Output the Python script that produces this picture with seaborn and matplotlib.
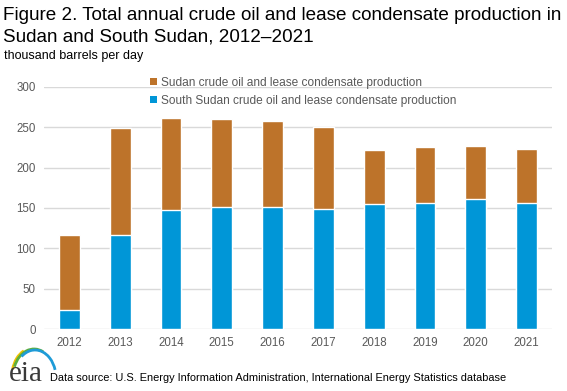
import matplotlib
matplotlib.use("Agg")
import matplotlib.pyplot as plt
from matplotlib.patches import Arc, Patch
import seaborn as sns
import pandas as pd

years = ["2012", "2013", "2014", "2015", "2016", "2017", "2018", "2019", "2020", "2021"]
south_sudan = [23, 116, 148, 151, 151, 149, 155, 156, 161, 156]
sudan = [93, 133, 113, 109, 107, 102, 67, 69, 66, 67]
yticks = [0, 50, 100, 150, 200, 250, 300]

label_sudan = "Sudan crude oil and lease condensate production"
label_south = "South Sudan crude oil and lease condensate production"

c_sudan = "#BD732A"
c_south = "#0096D7"
grey_txt = "#595959"

sns.set_theme(style="white")
plt.rcParams["font.family"] = ["Liberation Sans", "DejaVu Sans"]

df = pd.DataFrame({"year": years, "south": south_sudan, "sudan": sudan})
df["total"] = df["south"] + df["sudan"]

fig = plt.figure(figsize=(5.67, 3.91), dpi=100)
ax = fig.add_axes([44 / 567, 1 - 329 / 391, (552 - 44) / 567, (329 - 87) / 391])

sns.barplot(data=df, x="year", y="total", color=c_sudan, width=0.41, ax=ax,
            saturation=1, zorder=3)
sns.barplot(data=df, x="year", y="south", color=c_south, width=0.41, ax=ax,
            saturation=1, zorder=3)

ax.set_ylim(0, 300)
ax.set_xlim(-0.5, len(years) - 0.5)
ax.set_yticks(yticks)
ax.set_yticklabels([str(v) for v in yticks])
ax.set_xlabel("")
ax.set_ylabel("")
for s in ax.spines.values():
    s.set_visible(False)
ax.yaxis.grid(True, color="#D9D9D9", linewidth=1.0, zorder=0)
ax.xaxis.grid(False)
ax.set_axisbelow(True)
ax.tick_params(axis="both", length=0, labelsize=8.3, labelcolor=grey_txt)
ax.tick_params(axis="y", pad=6)
ax.tick_params(axis="x", pad=6)

handles = [Patch(facecolor=c_sudan, edgecolor="none"), Patch(facecolor=c_south, edgecolor="none")]
leg = ax.legend(handles, [label_sudan, label_south], loc="upper left",
                bbox_to_anchor=(0.2, 1.063), frameon=False, fontsize=8.6,
                handlelength=0.55, handleheight=0.55, handletextpad=0.35,
                labelspacing=0.5, borderaxespad=0)
for t in leg.get_texts():
    t.set_color(grey_txt)

fig.text(3 / 567, 1 - 16 / 391, "Figure 2. Total annual crude oil and lease condensate production in",
         fontsize=13.6, color="black", va="center", ha="left")
fig.text(3 / 567, 1 - 37 / 391, "Sudan and South Sudan, 2012\u20132021",
         fontsize=13.6, color="black", va="center", ha="left")
fig.text(4 / 567, 1 - 56 / 391, "thousand barrels per day",
         fontsize=9, color="black", va="center", ha="left")
fig.text(50 / 567, 1 - 378 / 391,
         "Data source: U.S. Energy Information Administration, International Energy Statistics database",
         fontsize=7.95, color="black", va="center", ha="left")

# eia logo
fig.text(9 / 567, 1 - 374 / 391, "eia", fontsize=21, family=["Liberation Serif", "DejaVu Serif"],
         color="#3A3A3A", va="center", ha="left")
lax = fig.add_axes([0, 0, 1, 1], facecolor="none")
lax.set_xlim(0, 567)
lax.set_ylim(391, 0)
lax.axis("off")
for (cx, cy, w, h, col, t1, t2) in [
    (33, 376, 42, 56, "#F2C200", 198, 250),
    (34, 377, 42, 56, "#5DAE3E", 208, 290),
    (35, 378, 42, 56, "#1E9BD7", 238, 338),
]:
    lax.add_patch(Arc((cx, cy), w, h, theta1=t1, theta2=t2, color=col, linewidth=2.0))

fig.savefig("out.png", dpi=100)
